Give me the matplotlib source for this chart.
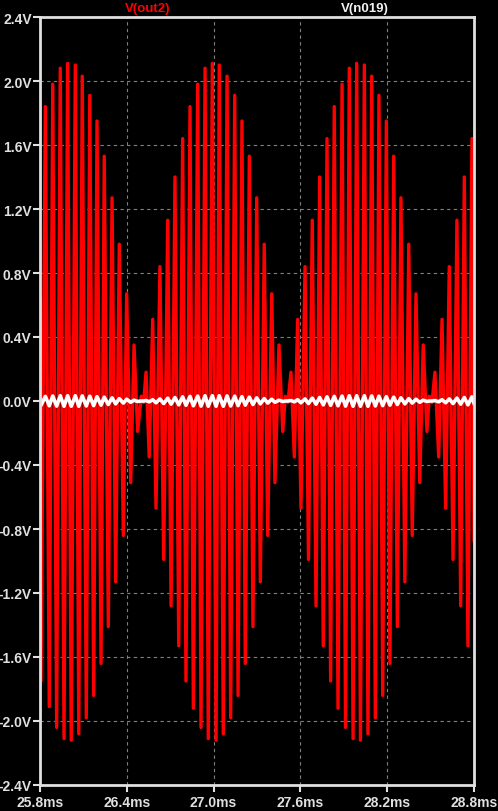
import numpy as np
import matplotlib
matplotlib.use("Agg")
import matplotlib.pyplot as plt

# extremes of the traces (time in ms, volts)
t_ms = [
    25.800, 25.807, 25.837, 25.864, 25.888, 25.915, 25.940, 25.966, 25.991, 26.016,
    26.044, 26.068, 26.092, 26.120, 26.144, 26.171, 26.194, 26.222, 26.244, 26.272,
    26.298, 26.323, 26.348, 26.376, 26.399, 26.427, 26.450, 26.475, 26.500, 26.516,
    26.533, 26.555, 26.579, 26.602, 26.629, 26.655, 26.683, 26.706, 26.733, 26.759,
    26.786, 26.809, 26.837, 26.860, 26.890, 26.913, 26.941, 26.963, 26.991, 27.017,
    27.039, 27.067, 27.093, 27.118, 27.146, 27.169, 27.196, 27.219, 27.247, 27.272,
    27.298, 27.323, 27.350, 27.374, 27.402, 27.424, 27.452, 27.478, 27.496, 27.514,
    27.535, 27.558, 27.581, 27.604, 27.632, 27.656, 27.682, 27.708, 27.733, 27.758,
    27.784, 27.809, 27.834, 27.860, 27.888, 27.912, 27.938, 27.964, 27.989, 28.015,
    28.042, 28.067, 28.093, 28.118, 28.143, 28.169, 28.194, 28.219, 28.245, 28.270,
    28.295, 28.322, 28.349, 28.373, 28.399, 28.425, 28.449, 28.475, 28.491, 28.510,
    28.530, 28.556, 28.579, 28.604, 28.629, 28.655, 28.682, 28.708, 28.733, 28.758,
    28.786, 28.800,
]
v_out2 = [
    0.63, -1.75, 1.84, -1.91, 1.98, -2.04, 2.08, -2.11, 2.11, -2.12,
    2.10, -2.08, 2.03, -1.98, 1.91, -1.84, 1.75, -1.64, 1.53, -1.41,
    1.27, -1.13, 0.98, -0.84, 0.67, -0.51, 0.35, -0.19, 0.03, -0.01,
    0.18, -0.35, 0.51, -0.67, 0.84, -0.99, 1.13, -1.28, 1.40, -1.53,
    1.64, -1.75, 1.84, -1.92, 1.98, -2.04, 2.08, -2.11, 2.11, -2.12,
    2.10, -2.08, 2.03, -1.98, 1.91, -1.84, 1.75, -1.64, 1.53, -1.41,
    1.27, -1.13, 0.98, -0.84, 0.67, -0.51, 0.35, -0.19, 0.03, -0.01,
    0.18, -0.35, 0.51, -0.67, 0.84, -0.99, 1.13, -1.28, 1.40, -1.53,
    1.64, -1.75, 1.84, -1.92, 1.98, -2.04, 2.08, -2.11, 2.11, -2.12,
    2.10, -2.08, 2.03, -1.98, 1.91, -1.84, 1.75, -1.64, 1.53, -1.41,
    1.27, -1.13, 0.98, -0.84, 0.67, -0.51, 0.35, -0.19, 0.03, -0.01,
    0.18, -0.35, 0.51, -0.67, 0.84, -0.99, 1.13, -1.28, 1.40, -1.53,
    1.64, -0.87,
]
v_n019 = [
    0.010, -0.027, 0.029, -0.030, 0.031, -0.032, 0.033, -0.033, 0.033, -0.033,
    0.033, -0.033, 0.032, -0.031, 0.030, -0.029, 0.027, -0.026, 0.024, -0.022,
    0.020, -0.018, 0.015, -0.013, 0.011, -0.008, 0.005, -0.003, 0.000, 0.000,
    0.003, -0.005, 0.008, -0.011, 0.013, -0.016, 0.018, -0.020, 0.022, -0.024,
    0.026, -0.027, 0.029, -0.030, 0.031, -0.032, 0.033, -0.033, 0.033, -0.033,
    0.033, -0.033, 0.032, -0.031, 0.030, -0.029, 0.027, -0.026, 0.024, -0.022,
    0.020, -0.018, 0.015, -0.013, 0.011, -0.008, 0.005, -0.003, 0.000, 0.000,
    0.003, -0.005, 0.008, -0.011, 0.013, -0.016, 0.018, -0.020, 0.022, -0.024,
    0.026, -0.027, 0.029, -0.030, 0.031, -0.032, 0.033, -0.033, 0.033, -0.033,
    0.033, -0.033, 0.032, -0.031, 0.030, -0.029, 0.027, -0.026, 0.024, -0.022,
    0.020, -0.018, 0.015, -0.013, 0.011, -0.008, 0.005, -0.003, 0.000, 0.000,
    0.003, -0.005, 0.008, -0.011, 0.013, -0.016, 0.018, -0.020, 0.022, -0.024,
    0.026, -0.014,
]
assert len(t_ms) == len(v_out2) == len(v_n019)

x_ticks = [25.8, 26.4, 27.0, 27.6, 28.2, 28.8]
x_labels = ["25.8ms", "26.4ms", "27.0ms", "27.6ms", "28.2ms", "28.8ms"]
y_ticks = [-2.4, -2.0, -1.6, -1.2, -0.8, -0.4, 0.0, 0.4, 0.8, 1.2, 1.6, 2.0, 2.4]
y_labels = ["-2.4V", "-2.0V", "-1.6V", "-1.2V", "-0.8V", "-0.4V", "0.0V",
            "0.4V", "0.8V", "1.2V", "1.6V", "2.0V", "2.4V"]

fg = "#e0e0e0"
plt.rcParams['font.family'] = ['Liberation Sans', 'DejaVu Sans']

fig = plt.figure(figsize=(4.98, 8.12), dpi=100, facecolor="black")
ax = fig.add_axes([40 / 498, 26 / 812, 434 / 498, 768 / 812], facecolor="black")

ax.plot(t_ms, v_out2, color="#ff0000", lw=2.4, zorder=2)
ax.plot(t_ms, v_n019, color="white", lw=2.6, zorder=3)

ax.set_xlim(25.8, 28.8)
ax.set_ylim(-2.4, 2.4)
ax.set_xticks(x_ticks)
ax.set_xticklabels(x_labels)
ax.set_yticks(y_ticks)
ax.set_yticklabels(y_labels)
ax.grid(True, color="#808080", lw=0.8, linestyle=(0, (3, 3)))
ax.set_axisbelow(True)

for s in ax.spines.values():
    s.set_color(fg)
    s.set_linewidth(2.0)
    s.set_zorder(5)
ax.tick_params(axis="both", colors=fg, width=1.5, labelsize=10)
ax.tick_params(axis="y", length=5, pad=1)
ax.tick_params(axis="x", length=5, pad=2.5)
for lab in ax.get_xticklabels() + ax.get_yticklabels():
    lab.set_fontweight("bold")

fig.text(147.7 / 498, 1 - 9.3 / 812, "V(out2)", color="#ff0000", fontsize=9.5,
         fontweight="bold", ha="center", va="center")
fig.text(365 / 498, 1 - 9.3 / 812, "V(n019)", color="#f0f0f0", fontsize=9.5,
         fontweight="bold", ha="center", va="center")

fig.savefig("out.png", dpi=100, facecolor="black")
